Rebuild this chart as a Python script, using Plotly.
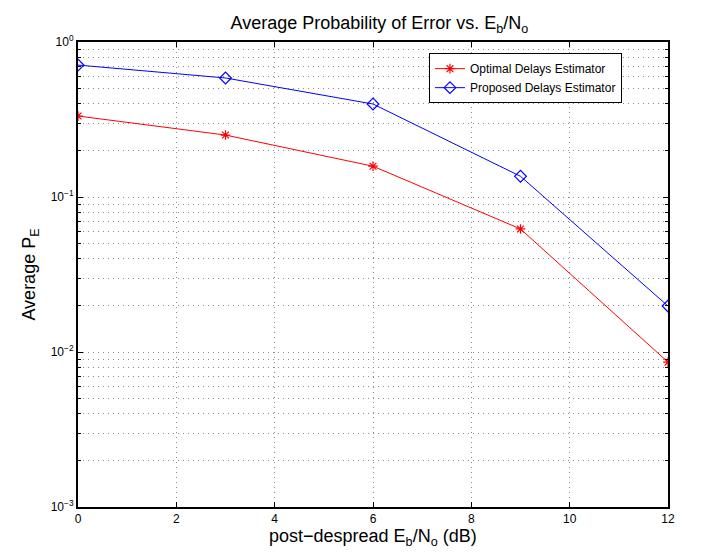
import plotly.graph_objects as go

snr_db = [0, 3, 6, 9, 12]
optimal_pe = [0.333, 0.251, 0.158, 0.0622, 0.0086]
proposed_pe = [0.71, 0.586, 0.398, 0.136, 0.0198]
x_ticks = [0, 2, 4, 6, 8, 10, 12]
y_ticks = [0.001, 0.01, 0.1, 1]
y_tick_text = ["10<sup>\u22123</sup>", "10<sup>\u22122</sup>", "10<sup>\u22121</sup>", "10<sup>0</sup>"]

FONT = "Liberation Sans, Arial, Helvetica, sans-serif"

fig = go.Figure()
fig.add_trace(go.Scatter(
    x=snr_db, y=optimal_pe, mode="lines+markers", name="Optimal Delays Estimator",
    line=dict(color="#ff0000", width=1),
    marker=dict(symbol="asterisk-open", size=8, color="#ff0000", line=dict(color="#ff0000", width=1.2)),
))
fig.add_trace(go.Scatter(
    x=snr_db, y=proposed_pe, mode="lines+markers", name="Proposed Delays Estimator",
    line=dict(color="#0000ff", width=1),
    marker=dict(symbol="diamond-open", size=9, color="#0000ff", line=dict(color="#0000ff", width=1.2)),
))

grid_color = "#8c8c8c"
grid_dash = "1px,4px"
fig.update_layout(
    width=693, height=548,
    margin=dict(l=70, r=33, t=34, b=49),
    paper_bgcolor="white", plot_bgcolor="white",
    font=dict(family=FONT, color="black", size=12),
    title=dict(text="Average Probability of Error vs. E<sub>b</sub>/N<sub>o</sub>",
               x=0.536, xanchor="center", y=0.985, yanchor="top",
               font=dict(size=18, family=FONT)),
    showlegend=True,
    legend=dict(x=0.922, xanchor="right", y=0.976, yanchor="top",
                bgcolor="white", bordercolor="black", borderwidth=1,
                font=dict(size=12, family=FONT), tracegroupgap=0,
                itemwidth=30),
    xaxis=dict(
        range=[0, 12], tickvals=x_ticks, ticks="inside", ticklen=5, tickcolor="black",
        showline=True, linecolor="black", linewidth=2, mirror="ticks",
        showgrid=True, gridcolor=grid_color, griddash=grid_dash, gridwidth=1,
        zeroline=False, automargin=False,
        tickfont=dict(size=12, family=FONT),
    ),
    yaxis=dict(
        type="log", range=[-3, 0], tickvals=y_ticks, ticktext=y_tick_text,
        ticks="inside", ticklen=5, tickcolor="black",
        showline=True, linecolor="black", linewidth=2, mirror="ticks",
        showgrid=True, gridcolor=grid_color, griddash=grid_dash, gridwidth=1,
        zeroline=False, automargin=False,
        minor=dict(dtick="D1", ticks="inside", ticklen=3, tickcolor="black",
                   showgrid=True, gridcolor=grid_color, griddash=grid_dash, gridwidth=1),
        title=dict(text="Average P<sub>E</sub>", font=dict(size=18, family=FONT), standoff=10),
        tickfont=dict(size=12, family=FONT),
    ),
    annotations=[dict(
        text="post\u2212despread E<sub>b</sub>/N<sub>o</sub> (dB)",
        xref="paper", yref="paper", x=0.5, y=0, xanchor="center", yanchor="top",
        yshift=-17, showarrow=False, font=dict(size=18, family=FONT),
    )],
)

fig.write_html("out.html")
